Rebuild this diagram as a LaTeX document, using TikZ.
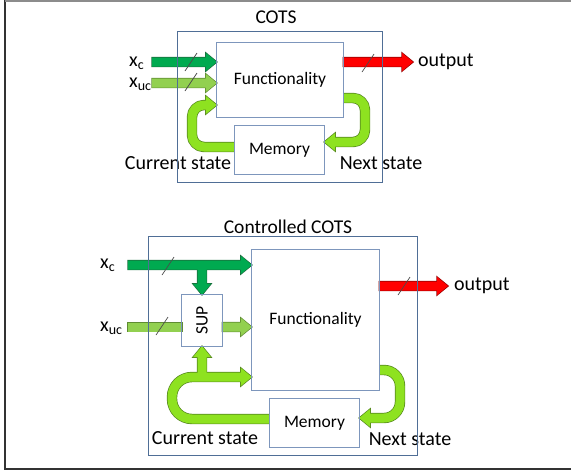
\documentclass[tikz,border=0pt]{standalone}
\usepackage{fontspec}
\setmainfont{Carlito}
\usetikzlibrary{calc}
\definecolor{dkg}{RGB}{0,170,80}
\definecolor{dkgB}{RGB}{25,110,60}
\definecolor{ltg}{RGB}{146,208,80}
\definecolor{ltgB}{RGB}{95,140,50}
\definecolor{lim}{RGB}{142,226,32}
\definecolor{limB}{RGB}{85,135,30}
\definecolor{rd}{RGB}{255,0,0}
\definecolor{rdB}{RGB}{150,0,0}
\definecolor{obx}{RGB}{79,110,150}
\definecolor{ibx}{RGB}{125,150,188}
\def\arrW{4.5pt}\def\arrH{9pt}\def\arrL{11pt}
\newcommand\arrpts[3]{%
  \path (#2) coordinate (#1-s) (#3) coordinate (#1-t);
  \path ($(#1-t)!\arrL!(#1-s)$) coordinate (#1-b);
  \path ($(#1-s)!\arrW!90:(#1-t)$) coordinate (#1-s1)
        ($(#1-s)!\arrW!-90:(#1-t)$) coordinate (#1-s2)
        ($(#1-b)!\arrW!-90:(#1-s)$) coordinate (#1-b1)
        ($(#1-b)!\arrW!90:(#1-s)$) coordinate (#1-b2)
        ($(#1-b)!\arrH!-90:(#1-s)$) coordinate (#1-h1)
        ($(#1-b)!\arrH!90:(#1-s)$) coordinate (#1-h2);
}
\tikzset{
  arrpoly/.style={insert path={(#1-s1) -- (#1-b1) -- (#1-h1) -- (#1-t) -- (#1-h2) -- (#1-b2) -- (#1-s2) -- cycle}},
  headtri/.style={insert path={(#1-h1) -- (#1-t) -- (#1-h2) -- cycle}},
  bdr/.style={line width=1.4pt, line join=miter},
  shaftB/.style={line width=10.4pt, line cap=butt, line join=round},
  shaftF/.style={line width=9pt, line cap=butt, line join=round},
  lbl/.style={font=\fontsize{20}{24}\selectfont, inner sep=0pt},
  ttl/.style={font=\fontsize{19.5}{23}\selectfont, inner sep=0pt},
  btxt/.style={font=\fontsize{17.5}{21}\selectfont, inner sep=0pt},
  ibox/.style={draw=ibx, line width=0.9pt},
  obox/.style={draw=obx, line width=0.9pt},
  slash/.style={draw=black!70, line width=0.7pt},
  area/.style={inner sep=0pt, draw=none},
}
\begin{document}
\begin{tikzpicture}[x=1pt,y=-1pt]
\useasboundingbox (0,0) rectangle (571,472);
% ---------- top diagram: nodes
\node[ttl] (t1) at (276,17) {COTS};
\node[area, minimum width=204pt, minimum height=150pt] (cots) at (280,107) {};
\node[area, btxt, minimum width=126pt, minimum height=74pt] (fun1) at (280,80) {Functionality};
\node[area, btxt, minimum width=89pt, minimum height=48pt] (mem1) at (279.5,150) {Memory};
\node[lbl, anchor=base west] (xc1) at (129,66) {x\textsubscript{c}};
\node[lbl, anchor=base west] (xuc1) at (129,87) {x\textsubscript{uc}};
\node[lbl] (cs1) at (178,163) {Current state};
\node[lbl] (ns1) at (381,163) {Next state};
% ---------- bottom diagram: nodes
\node[ttl] (t2) at (288,227) {Controlled COTS};
\node[area, minimum width=268pt, minimum height=218pt] (ccots) at (283,346) {};
\node[area, btxt, minimum width=127pt, minimum height=140pt] (fun2) at (315.5,320) {Functionality};
\node[area, minimum width=40pt, minimum height=51pt] (sup) at (202,320.5) {};
\node[btxt, rotate=90] (suptxt) at (sup.center) {SUP};
\node[area, btxt, minimum width=89pt, minimum height=48pt] (mem2) at (314.5,423) {Memory};
\node[lbl, anchor=base west] (xc2) at (100,268) {x\textsubscript{c}};
\node[lbl, anchor=base west] (xuc2) at (100,331) {x\textsubscript{uc}};
\node[lbl] (cs2) at (205,438) {Current state};
\node[lbl] (ns2) at (410,439) {Next state};
% ---------- arrow geometry
\coordinate (xc1s) at (152,62);
\coordinate (xuc1s) at (152,83);
\coordinate (o1t) at (413,62);
\node[lbl, anchor=west] (out1) at ($(o1t)+(5,0)$) {output};
\arrpts{axc1}{xc1s}{fun1.west |- xc1s}
\arrpts{axuc1}{xuc1s}{fun1.west |- xuc1s}
\arrpts{ao1}{fun1.east |- xc1s}{o1t}
% current state (top)
\coordinate (c1a) at ($(mem1.west)+(0,-3)$);
\coordinate (c1b) at (192,147);
\coordinate (c1c) at (192,105);
\arrpts{hc1}{c1c}{fun1.west |- c1c}
% next state (top)
\coordinate (n1a) at (fun1.east |- 0,98);
\coordinate (n1b) at (365,98);
\coordinate (n1c) at (365,142);
\arrpts{hn1}{n1c}{mem1.east |- n1c}
% bottom
\coordinate (xc2s) at (128,265);
\coordinate (xuc2s) at (128,327);
\coordinate (o2t) at (448,286);
\node[lbl, anchor=west] (out2) at ($(o2t)+(6,0)$) {output};
\arrpts{axc2}{xc2s}{fun2.west |- xc2s}
\arrpts{adn}{sup.north |- xc2s}{sup.north}
\arrpts{asup}{sup.east |- xuc2s}{fun2.west |- xuc2s}
\arrpts{ao2}{fun2.east |- o2t}{o2t}
\coordinate (c2a) at (mem2.west |- 0,419);
\coordinate (c2b) at (172,419);
\coordinate (c2c) at (172,377);
\arrpts{hc2}{c2c}{fun2.west |- c2c}
\arrpts{aup}{sup.south |- c2c}{sup.south}
\coordinate (n2a) at (fun2.east |- 0,370);
\coordinate (n2b) at (400,370);
\coordinate (n2c) at (400,418);
\arrpts{hn2}{n2c}{mem2.east |- n2c}
% ---------- border pass
\draw[bdr, draw=dkgB, arrpoly=axc1];
\draw[bdr, draw=ltgB, arrpoly=axuc1];
\draw[bdr, draw=rdB, arrpoly=ao1];
\draw[shaftB, draw=limB, rounded corners=12pt] (c1a) -- (c1b) -- (c1c) -- (hc1-b);
\draw[bdr, draw=limB, headtri=hc1];
\draw[shaftB, draw=limB, rounded corners=12pt] (n1a) -- (n1b) -- (n1c) -- (hn1-b);
\draw[bdr, draw=limB, headtri=hn1];
\draw[bdr, draw=dkgB, arrpoly=axc2];
\draw[bdr, draw=dkgB, arrpoly=adn];
\draw[bdr, draw=ltgB] ($(xuc2s)+(0,-4.5)$) rectangle ($(sup.west |- xuc2s)+(0,4.5)$);
\draw[bdr, draw=ltgB, arrpoly=asup];
\draw[bdr, draw=rdB, arrpoly=ao2];
\draw[shaftB, draw=limB, rounded corners=20pt] (c2a) -- (c2b) -- (c2c) -- (hc2-b);
\draw[bdr, draw=limB, headtri=hc2];
\draw[bdr, draw=limB, arrpoly=aup];
\draw[shaftB, draw=limB, rounded corners=16pt] (n2a) -- (n2b) -- (n2c) -- (hn2-b);
\draw[bdr, draw=limB, headtri=hn2];
% ---------- fill pass
\fill[dkg, arrpoly=axc1];
\fill[ltg, arrpoly=axuc1];
\fill[rd, arrpoly=ao1];
\draw[shaftF, draw=lim, rounded corners=12pt] (c1a) -- (c1b) -- (c1c) -- (hc1-b);
\fill[lim, headtri=hc1];
\draw[shaftF, draw=lim, rounded corners=12pt] (n1a) -- (n1b) -- (n1c) -- (hn1-b);
\fill[lim, headtri=hn1];
\fill[dkg, arrpoly=axc2];
\fill[dkg, arrpoly=adn];
\fill[ltg] ($(xuc2s)+(0,-4.5)$) rectangle ($(sup.west |- xuc2s)+(0,4.5)$);
\fill[ltg, arrpoly=asup];
\fill[rd, arrpoly=ao2];
\draw[shaftF, draw=lim, rounded corners=20pt] (c2a) -- (c2b) -- (c2c) -- (hc2-b);
\fill[lim, headtri=hc2];
\fill[lim, arrpoly=aup];
\draw[shaftF, draw=lim, rounded corners=16pt] (n2a) -- (n2b) -- (n2c) -- (hn2-b);
\fill[lim, headtri=hn2];
% ---------- bus slashes
\foreach \p in {(191,62),(191,82),(368,63),(168,266),(162,326),(404,286)}
  \draw[slash] \p ++(-6,9) -- ++(12,-18);
% ---------- boxes on top
\draw[obox] (cots.north west) rectangle (cots.south east);
\draw[ibox] (fun1.north west) rectangle (fun1.south east);
\draw[ibox] (mem1.north west) rectangle (mem1.south east);
\draw[obox] (ccots.north west) rectangle (ccots.south east);
\draw[ibox] (fun2.north west) rectangle (fun2.south east);
\draw[ibox] (sup.north west) rectangle (sup.south east);
\draw[ibox] (mem2.north west) rectangle (mem2.south east);
% ---------- frame
\draw[line width=2pt, black!80] (5,0) -- (5,469) -- (571,469);
\draw[line width=1.5pt, black!45] (5,0.75) -- (571,0.75);
\end{tikzpicture}
\end{document}
